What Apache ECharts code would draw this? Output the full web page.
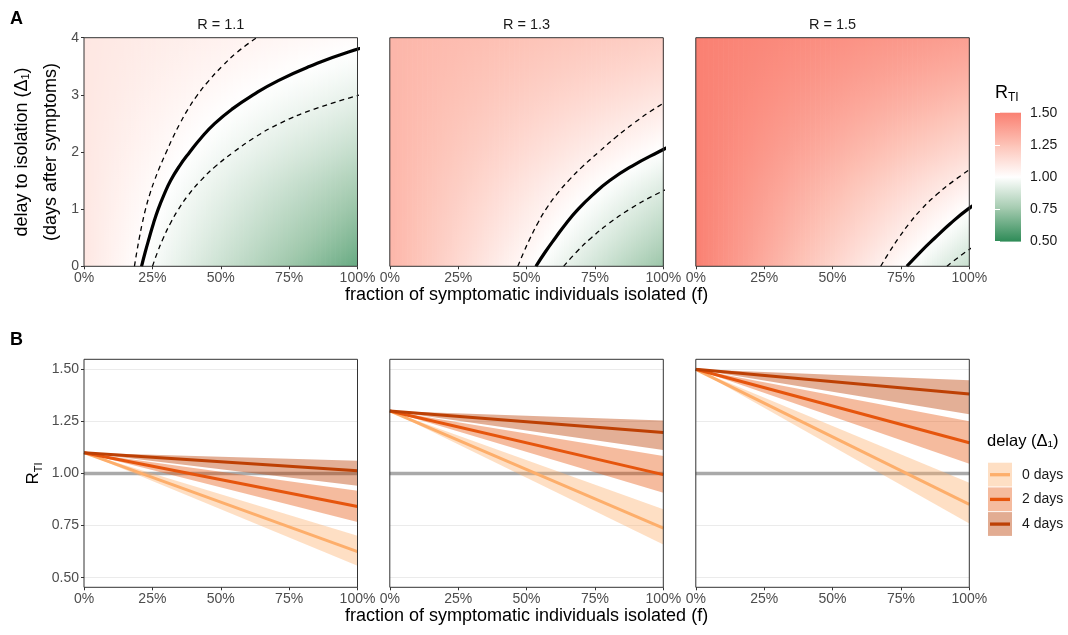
<!DOCTYPE html>
<html>
<head>
<meta charset="utf-8">
<script src="https://cdn.jsdelivr.net/npm/echarts@6/dist/echarts.min.js"></script>
<style>html,body{margin:0;padding:0;background:#fff}#c{width:1068px;height:635px}</style>
</head>
<body>
<div id="c"></div>
<script>
// ---------------- data ----------------
const Rvalues = [1.1, 1.3, 1.5];
const panelTitles = ['R = 1.1', 'R = 1.3', 'R = 1.5'];
const threshold = 1;
// delay to isolation (days after symptoms)
const delays = [0, 0.25, 0.5, 0.75, 1, 1.25, 1.5, 1.75, 2, 2.25, 2.5, 2.75, 3, 3.25, 3.5, 3.75, 4];
// fraction of transmission prevented by isolating everyone at that delay (central, low, high)
const reductionMid  = [0.432, 0.406, 0.381, 0.358, 0.335, 0.311, 0.287, 0.261, 0.235, 0.212, 0.190, 0.168, 0.147, 0.128, 0.110, 0.094, 0.079];
const reductionLow  = [0.363, 0.338, 0.313, 0.288, 0.263, 0.238, 0.213, 0.189, 0.166, 0.146, 0.127, 0.108, 0.090, 0.074, 0.060, 0.047, 0.035];
const reductionHigh = [0.493, 0.471, 0.449, 0.427, 0.404, 0.379, 0.353, 0.327, 0.302, 0.280, 0.259, 0.239, 0.219, 0.199, 0.180, 0.162, 0.144];
const legendDelays = [0, 2, 4];
const delayLabels = ['0 days', '2 days', '4 days'];
const fracEnds = [0, 1];
const colorbarStops = [0.5, 0.75, 1, 1.25, 1.5];
const colorbarColors = ['#2E8B57', '#A1C9AD', '#FFFFFF', '#FDC3B7', '#FA8072'];

// ---------------- styling ----------------
const FONT = "'Liberation Sans', Arial, Helvetica, sans-serif";
const lefts = [84, 389.8, 695.8];
const PW = 273.5;
const topA = 37.7, hA = 228.6;
const topB = 359.3, hB = 228;
const topBi = 369.3, hBi = 208.4;
const lineColors = ['#FDAE6B', '#E6550D', '#BD4004'];
const bandColors = ['rgba(253,174,107,0.4)', 'rgba(230,85,13,0.4)', 'rgba(189,64,4,0.42)'];
const keyColors = ['#FEDFC4', '#F5BB9E', '#E2AC92'];
const xTitle = 'fraction of symptomatic individuals isolated (f)';

function hexToRgb(h) { return [parseInt(h.slice(1,3),16), parseInt(h.slice(3,5),16), parseInt(h.slice(5,7),16)]; }
const stopRgb = colorbarColors.map(hexToRgb);
function colorAt(v) {
  v = Math.max(colorbarStops[0], Math.min(colorbarStops[colorbarStops.length-1], v));
  let k = 0;
  while (k < colorbarStops.length - 2 && v > colorbarStops[k+1]) k++;
  const t = (v - colorbarStops[k]) / (colorbarStops[k+1] - colorbarStops[k]);
  const a = stopRgb[k], b = stopRgb[k+1];
  return 'rgb(' + [0,1,2].map(i => Math.round(a[i] + (b[i]-a[i])*t)).join(',') + ')';
}

const maxDelay = delays[delays.length - 1];
// one column of the map: [f0, f1, value at each delay...]
function renderColumn(params, api) {
  const f0 = api.value(0), f1 = api.value(1);
  const pTL = api.coord([f0, maxDelay]);
  const pBR = api.coord([f1, delays[0]]);
  const stops = delays.map((d, j) => ({ offset: (d - delays[0]) / (maxDelay - delays[0]), color: colorAt(api.value(2 + j)) }));
  return {
    type: 'rect',
    shape: { x: pTL[0], y: pTL[1], width: pBR[0] - pTL[0] + 0.7, height: pBR[1] - pTL[1] },
    style: { fill: { type: 'linear', x: 0, y: 1, x2: 0, y2: 0, colorStops: stops } }
  };
}

function renderBar(params, api) {
  const s0 = api.value(0), s1 = api.value(1);
  const pTL = api.coord([0, s1]);
  const pBR = api.coord([1, s0]);
  return {
    type: 'rect',
    shape: { x: pTL[0], y: pTL[1], width: pBR[0] - pTL[0], height: pBR[1] - pTL[1] + 0.5 },
    style: { fill: { type: 'linear', x: 0, y: 0, x2: 0, y2: 1, colorStops: [{offset: 0, color: colorAt(s1)}, {offset: 1, color: colorAt(s0)}] } }
  };
}

// ribbon: [f0, lo0, hi0, f1, lo1, hi1]
function renderBand(params, api) {
  const a = api.coord([api.value(0), api.value(1)]);
  const b = api.coord([api.value(3), api.value(4)]);
  const c = api.coord([api.value(3), api.value(5)]);
  const d = api.coord([api.value(0), api.value(2)]);
  return { type: 'polygon', shape: { points: [a, b, c, d] }, style: { fill: api.visual('color') } };
}

function contour(g, R) {
  const c = 1 - threshold / R;
  const pts = [];
  for (let j = 0; j < delays.length; j++) {
    const f = c / g[j];
    pts.push([f, delays[j]]);
    if (f > 1) break;
  }
  return pts;
}

const tickStyle = { show: true, length: 3, lineStyle: { color: '#333333', width: 1 } };
const labelStyle = { color: '#4D4D4D', fontSize: 14, fontFamily: FONT };

const grid = [], xAxis = [], yAxis = [], series = [];
for (let p = 0; p < 3; p++) grid.push({ left: lefts[p], top: topA, width: PW, height: hA, show: true, borderColor: '#333333', borderWidth: 1, backgroundColor: 'transparent', z: 5 });
for (let p = 0; p < 3; p++) grid.push({ left: lefts[p], top: topB, width: PW, height: hB, show: true, borderColor: '#333333', borderWidth: 1, backgroundColor: 'transparent', z: 5 });
for (let p = 0; p < 3; p++) grid.push({ left: lefts[p], top: topBi, width: PW, height: hBi, show: false });
grid.push({ left: 995, top: 112.7, width: 26, height: 128.4, show: false });

function xPct(gi, named) {
  return {
    type: 'value', gridIndex: gi, min: 0, max: 1, interval: 0.25,
    axisLine: { show: false }, axisTick: tickStyle,
    axisLabel: Object.assign({ formatter: v => Math.round(v * 100) + '%', margin: 5 }, labelStyle),
    splitLine: { show: false },
    name: named ? xTitle : '', nameLocation: 'middle', nameGap: 19,
    nameTextStyle: { fontSize: 18, color: '#000', fontFamily: FONT }
  };
}
for (let p = 0; p < 3; p++) xAxis.push(xPct(p, p === 1));
for (let p = 0; p < 3; p++) xAxis.push(xPct(3 + p, p === 1));
for (let p = 0; p < 3; p++) xAxis.push({ type: 'value', gridIndex: 6 + p, min: 0, max: 1, show: false });
xAxis.push({ type: 'value', gridIndex: 9, min: 0, max: 1, show: false });

for (let p = 0; p < 3; p++) yAxis.push({
  type: 'value', gridIndex: p, min: 0, max: 4, interval: 1,
  axisLine: { show: false }, axisTick: Object.assign({}, tickStyle, { show: p === 0 }),
  axisLabel: Object.assign({ show: p === 0, margin: 5 }, labelStyle),
  splitLine: { show: false },
  name: p === 0 ? 'delay to isolation (Δ₁)\n(days after symptoms)' : '',
  nameLocation: 'middle', nameRotate: 90, nameGap: 18,
  nameTextStyle: { fontSize: 18, color: '#000', fontFamily: FONT, lineHeight: 29 }
});
for (let p = 0; p < 3; p++) yAxis.push({ type: 'value', gridIndex: 3 + p, min: 0, max: 1, show: false });
for (let p = 0; p < 3; p++) yAxis.push({
  type: 'value', gridIndex: 6 + p, min: 0.5, max: 1.5, interval: 0.25,
  axisLine: { show: false }, axisTick: Object.assign({}, tickStyle, { show: p === 0 }),
  axisLabel: Object.assign({ show: p === 0, margin: 5, formatter: v => v.toFixed(2) }, labelStyle),
  splitLine: { show: true, lineStyle: { color: '#EBEBEB', width: 1 } },
  name: p === 0 ? '{r|R}{s|TI}' : '',
  nameLocation: 'middle', nameRotate: 90, nameGap: 42,
  nameTextStyle: { fontFamily: FONT, rich: { r: { fontSize: 17, color: '#000', fontFamily: FONT }, s: { fontSize: 11, color: '#000', fontFamily: FONT, verticalAlign: 'bottom', padding: [0, 0, -2, 0] } } }
});
yAxis.push({
  type: 'value', gridIndex: 9, min: 0.5, max: 1.5, interval: 0.25, position: 'right', z: 5,
  axisLine: { show: false }, axisTick: { show: true, inside: true, length: 5, lineStyle: { color: '#FFFFFF', width: 1 } },
  axisLabel: { formatter: v => v.toFixed(2), fontSize: 14, color: '#1A1A1A', fontFamily: FONT, margin: 9 },
  splitLine: { show: false }
});
yAxis.push({
  type: 'value', gridIndex: 9, min: 0.5, max: 1.5, interval: 0.25, position: 'left', z: 5,
  axisLine: { show: false }, axisTick: { show: true, inside: true, length: 5, lineStyle: { color: '#FFFFFF', width: 1 } },
  axisLabel: { show: false }, splitLine: { show: false }
});

// ---------- panel A: map + contours ----------
const NCOL = 110;
Rvalues.forEach((R, p) => {
  const cols = [];
  for (let i = 0; i < NCOL; i++) {
    const f0 = i / NCOL, f1 = (i + 1) / NCOL, fm = (f0 + f1) / 2;
    cols.push([f0, f1].concat(reductionMid.map(g => R * (1 - fm * g))));
  }
  series.push({ type: 'custom', xAxisIndex: p, yAxisIndex: p, data: cols, renderItem: renderColumn, encode: { x: [0, 1] }, clip: true, silent: true, z: 1, progressive: 0, animation: false });
  [[reductionHigh, [5, 4], 1.3], [reductionLow, [5, 4], 1.3], [reductionMid, 'solid', 3.2]].forEach(([g, type, w]) => {
    series.push({ type: 'line', xAxisIndex: p, yAxisIndex: p, data: contour(g, R), symbol: 'none', smooth: 0.5, clip: true, silent: true, z: 3,
      lineStyle: { color: '#000', width: w, type: type } });
  });
});

// ---------- panel B: lines + ribbons ----------
Rvalues.forEach((R, p) => {
  const ai = 6 + p;
  series.push({ type: 'line', xAxisIndex: ai, yAxisIndex: ai, data: fracEnds.map(f => [f, threshold]), symbol: 'none', silent: true, z: 1,
    lineStyle: { color: '#A9A9A9', width: 3.5 } });
  legendDelays.forEach((d, k) => {
    const j = delays.indexOf(d);
    const item = [];
    fracEnds.forEach(f => item.push(f, R * (1 - f * reductionHigh[j]), R * (1 - f * reductionLow[j])));
    series.push({ type: 'custom', xAxisIndex: ai, yAxisIndex: ai, data: [item], renderItem: renderBand, encode: { x: [0, 3], y: [1, 2, 4, 5] },
      itemStyle: { color: bandColors[k] }, silent: true, z: 2 });
  });
  legendDelays.forEach((d, k) => {
    const j = delays.indexOf(d);
    series.push({ type: 'line', xAxisIndex: ai, yAxisIndex: ai, data: fracEnds.map(f => [f, R * (1 - f * reductionMid[j])]), symbol: 'none', silent: true, z: 3,
      lineStyle: { color: lineColors[k], width: 3 } });
  });
});

// ---------- colour bar ----------
const barSegs = [];
for (let k = 0; k < colorbarStops.length - 1; k++) barSegs.push([colorbarStops[k], colorbarStops[k + 1]]);
series.push({ type: 'custom', xAxisIndex: 9, yAxisIndex: 9, data: barSegs, renderItem: renderBar, encode: { y: [0, 1] }, silent: true, z: 1, animation: false });

// ---------- annotations ----------
const graphic = [];
graphic.push({ type: 'text', x: 10, y: 19, style: { text: 'A', fontSize: 18, fontWeight: 'bold', fontFamily: FONT, fill: '#000', verticalAlign: 'middle' } });
graphic.push({ type: 'text', x: 10, y: 340, style: { text: 'B', fontSize: 18, fontWeight: 'bold', fontFamily: FONT, fill: '#000', verticalAlign: 'middle' } });
panelTitles.forEach((t, p) => graphic.push({ type: 'text', x: lefts[p] + PW / 2, y: 24.5, style: { text: t, fontSize: 14.5, fontFamily: FONT, fill: '#1A1A1A', align: 'center', verticalAlign: 'middle' } }));
graphic.push({ type: 'text', x: 995, y: 93, style: { text: '{r|R}{s|TI}', fontFamily: FONT, verticalAlign: 'middle',
  rich: { r: { fontSize: 18, fill: '#000', fontFamily: FONT }, s: { fontSize: 12, fill: '#000', fontFamily: FONT, verticalAlign: 'bottom', padding: [0, 0, -2, 0] } } } });
graphic.push({ type: 'text', x: 987, y: 441, style: { text: 'delay (Δ₁)', fontSize: 16.5, fontFamily: FONT, fill: '#000', verticalAlign: 'middle' } });
delayLabels.forEach((lab, k) => {
  const y0 = 462.7 + k * 24.7;
  graphic.push({ type: 'rect', shape: { x: 988, y: y0, width: 24, height: 23.8 }, style: { fill: keyColors[k] } });
  graphic.push({ type: 'line', shape: { x1: 990, y1: y0 + 12, x2: 1010, y2: y0 + 12 }, style: { stroke: lineColors[k], lineWidth: 3.3 } });
  graphic.push({ type: 'text', x: 1022, y: y0 + 12, style: { text: lab, fontSize: 14, fontFamily: FONT, fill: '#1A1A1A', verticalAlign: 'middle' } });
});

const chart = echarts.init(document.getElementById('c'), null, { renderer: 'canvas', width: 1068, height: 635 });
chart.setOption({ animation: false, backgroundColor: '#FFFFFF', grid, xAxis, yAxis, series, graphic });
</script>
</body>
</html>
